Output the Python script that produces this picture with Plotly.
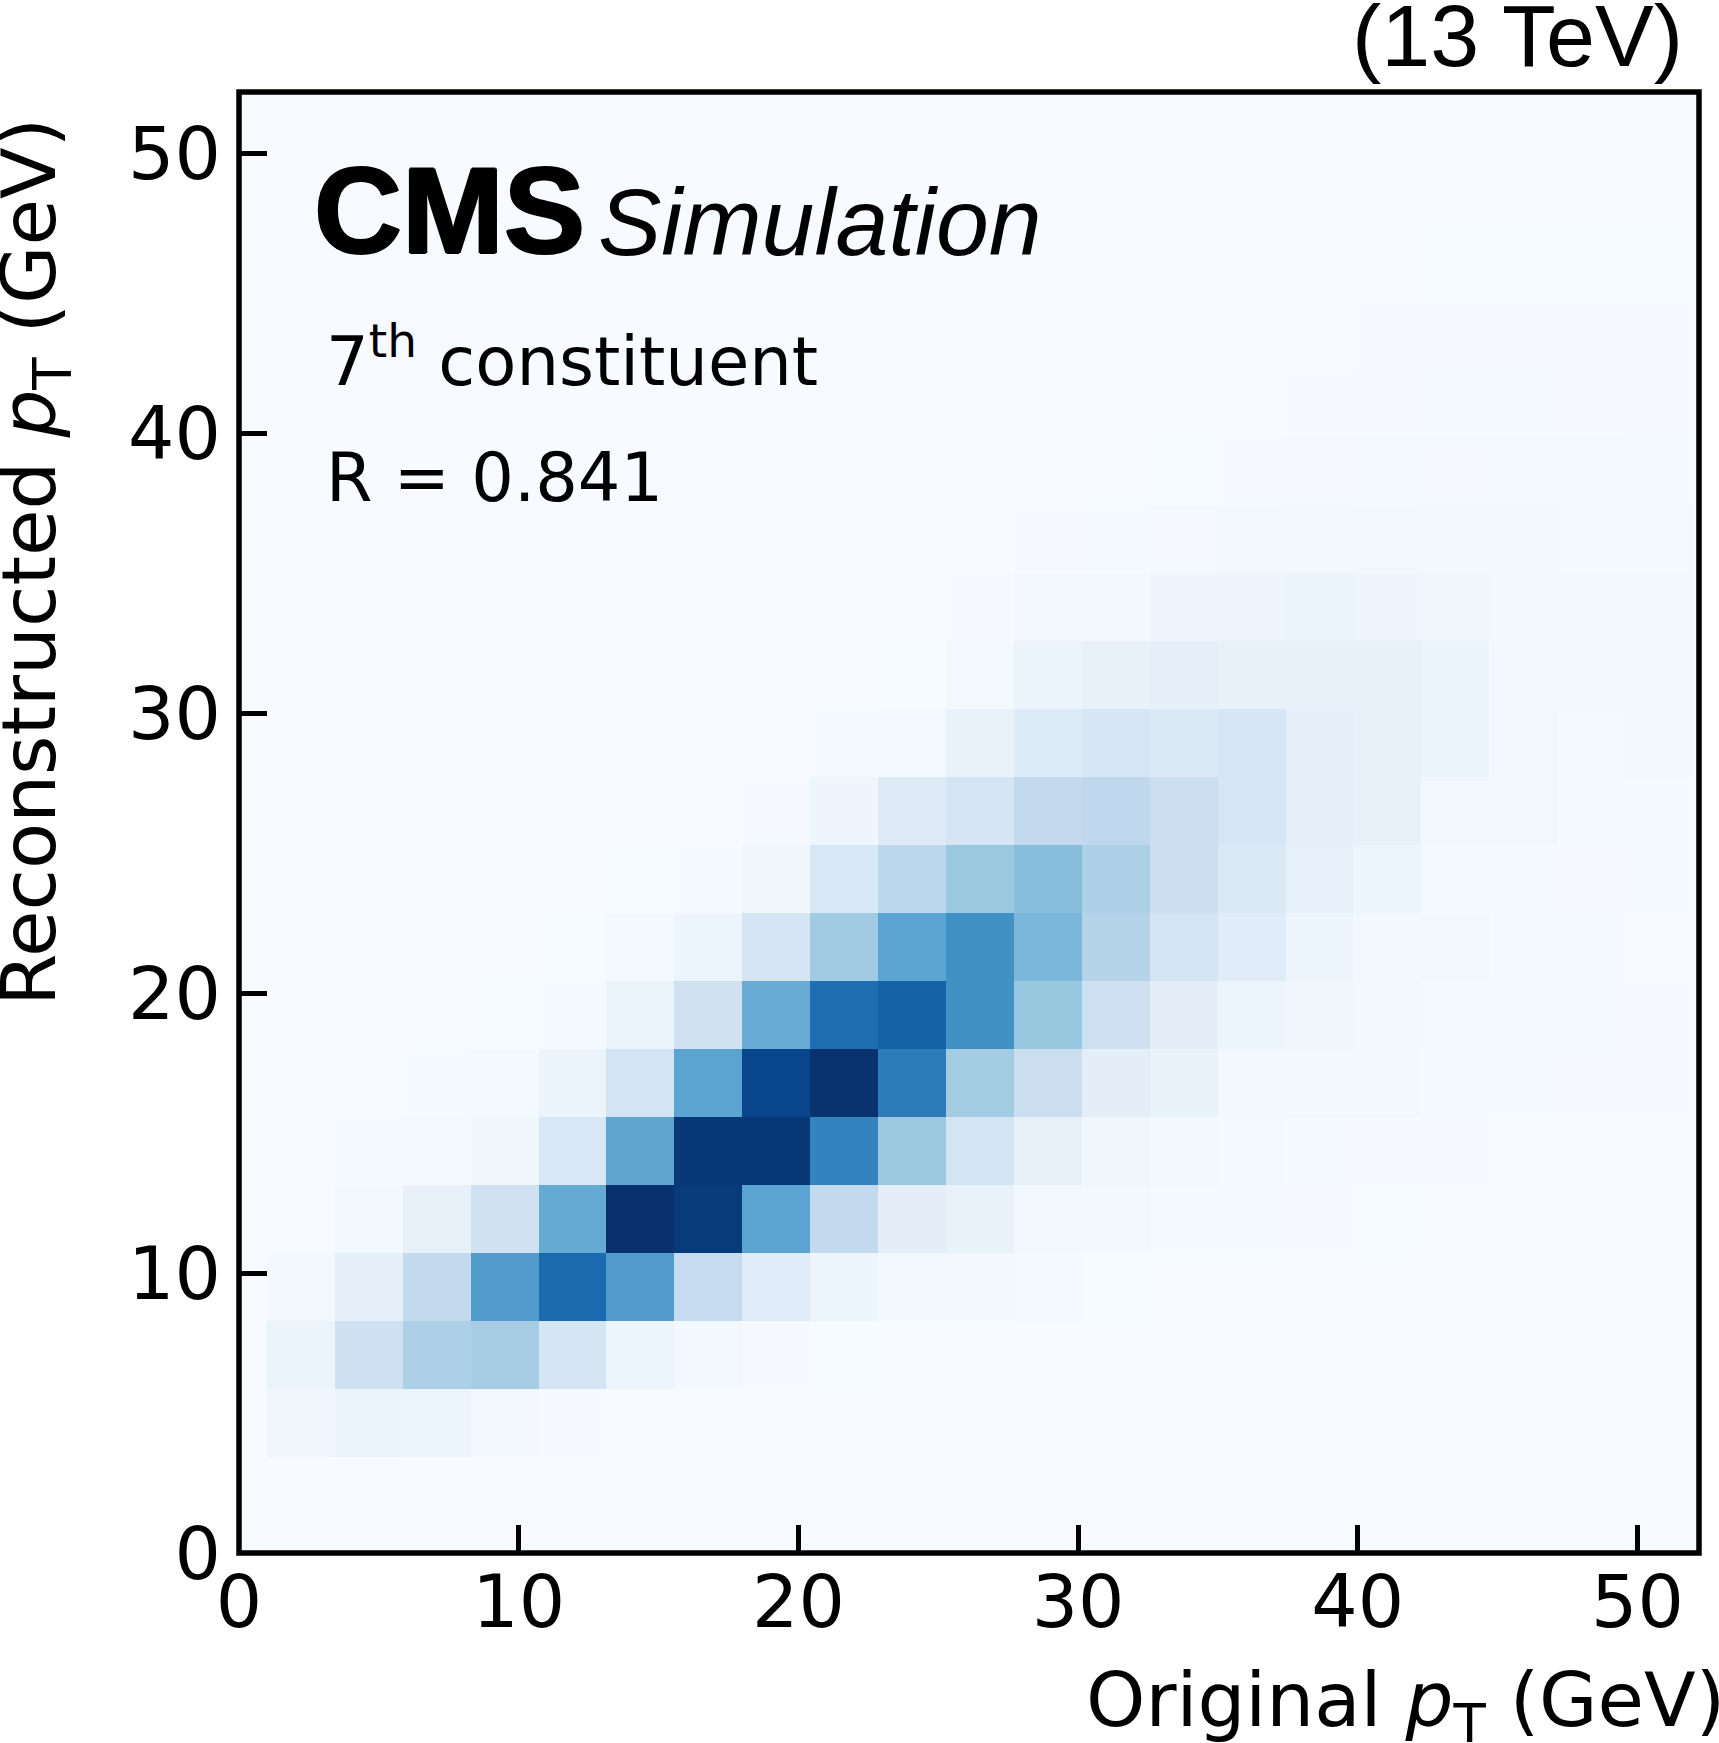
import numpy as np
import plotly.graph_objects as go

# Bin edges (GeV) and normalised bin contents, row 0 = lowest reconstructed pT bin
x_edges = np.linspace(1, 52, 22).tolist()
y_edges = np.linspace(1, 52, 22).tolist()
tick_values = [0, 10, 20, 30, 40, 50]
blues = ["#f7fbff", "#deebf7", "#c6dbef", "#9ecae1", "#6baed6", "#4292c6", "#2171b5", "#08519c", "#08306b"]

counts = [
    [0,    0,    0,    0,    0,    0,    0,    0,    0,    0,    0,    0,    0,    0,    0,    0,    0,    0,    0,    0,    0],
    [.04,  .06,  .05,  .02,  .005, .002, 0,    0,    0,    0,    0,    0,    0,    0,    0,    0,    0,    0,    0,    0,    0],
    [.06,  .21,  .33,  .35,  .17,  .05,  .025, .004, .003, .002, .001, 0,    0,    0,    0,    0,    0,    0,    0,    0,    0],
    [.025, .09,  .26,  .58,  .78,  .58,  .25,  .115, .05,  .02,  .02,  .015, .003, .002, .002, .001, 0,    0,    0,    0,    0],
    [0,    .025, .075, .20,  .52,  1.0,  .96,  .55,  .26,  .10,  .07,  .03,  .025, .01,  .008, .006, .003, .002, .001, 0,    0],
    [0,    .01,  .015, .04,  .16,  .54,  .97,  .97,  .68,  .38,  .18,  .08,  .04,  .02,  .015, .01,  .006, .004, .002, .001, .001],
    [0,    0,    .01,  .015, .055, .18,  .55,  .92,  .99,  .71,  .36,  .22,  .10,  .07,  .025, .025, .02,  .008, .01,  .006, .005],
    [0,    0,    0,    .003, .008, .055, .20,  .51,  .76,  .81,  .63,  .39,  .21,  .10,  .05,  .04,  .025, .016, .018, .008, .005],
    [0,    0,    0,    0,    .003, .015, .05,  .17,  .37,  .55,  .63,  .46,  .30,  .18,  .115, .05,  .025, .03,  .016, .01,  .002],
    [0,    0,    0,    0,    0,    .003, .01,  .04,  .16,  .28,  .385, .43,  .33,  .22,  .14,  .085, .05,  .016, .016, .006, .01],
    [0,    0,    0,    0,    0,    0,    .002, .006, .045, .125, .17,  .26,  .27,  .22,  .165, .095, .075, .03,  .03,  .01,  .01],
    [0,    0,    0,    0,    0,    0,    0,    .001, .01,  .015, .07,  .13,  .165, .14,  .165, .095, .075, .055, .03,  .015, .02],
    [0,    0,    0,    0,    0,    0,    0,    0,    .002, .003, .015, .06,  .075, .095, .075, .075, .075, .055, .03,  .02,  .02],
    [0,    0,    0,    0,    0,    0,    0,    0,    0,    .001, .006, .025, .02,  .045, .045, .055, .045, .04,  .025, .02,  .02],
    [0,    0,    0,    0,    0,    0,    0,    0,    0,    0,    .001, .006, .008, .012, .024, .024, .03,  .024, .024, .014, .014],
    [0,    0,    0,    0,    0,    0,    0,    0,    0,    0,    0,    .001, .002, .003, .006, .012, .014, .012, .014, .014, .01],
    [0,    0,    0,    0,    0,    0,    0,    0,    0,    0,    0,    0,    .001, .001, .002, .004, .004, .01,  .01,  .006, .006],
    [0,    0,    0,    0,    0,    0,    0,    0,    0,    0,    0,    0,    0,    .001, .001, .002, .005, .005, .005, .005, .005],
    [0,    0,    0,    0,    0,    0,    0,    0,    0,    0,    0,    0,    0,    0,    0,    .001, .002, .003, .003, .003, .003],
    [0,    0,    0,    0,    0,    0,    0,    0,    0,    0,    0,    0,    0,    0,    0,    0,    .001, .001, .001, .001, .001],
    [0,    0,    0,    0,    0,    0,    0,    0,    0,    0,    0,    0,    0,    0,    0,    0,    0,    0,    0,    0,    0],
]

colorscale = [[i / 8, c] for i, c in enumerate(blues)]
DJ = "DejaVu Sans"
LB = "Liberation Sans"

fig = go.Figure(go.Heatmap(
    x=x_edges, y=y_edges, z=counts,
    zmin=0, zmax=1, colorscale=colorscale, showscale=False,
    hoverinfo="skip",
))

axis = dict(
    range=[0, 52.2], tickmode="array", tickvals=tick_values, ticktext=[str(v) for v in tick_values],
    ticks="inside", ticklen=28, tickwidth=4.5, tickcolor="black",
    showline=False, showgrid=False, zeroline=False,
    tickfont=dict(family=DJ, size=73, color="black"),
)
fig.update_layout(
    width=1719, height=1743, autosize=False,
    margin=dict(l=239, r=20, t=92, b=190, pad=0),
    paper_bgcolor="white", plot_bgcolor="#f7fbff",
    xaxis=dict(axis, ticklabelstandoff=0),
    yaxis=dict(axis, ticklabelstandoff=17),
    showlegend=False,
)
# Frame centred on the plot-area edge
fig.add_shape(type="rect", xref="paper", yref="paper", x0=0, x1=1, y0=0, y1=1,
              line=dict(color="black", width=5.5), fillcolor="rgba(0,0,0,0)", layer="above")

def note(text, x, y, size, family=DJ, xanchor="left", yanchor="middle", angle=0, shadow=None):
    font = dict(family=family, size=size, color="black")
    if shadow:
        font["shadow"] = shadow
    fig.add_annotation(text=text, x=x, y=y, xref="paper", yref="paper", showarrow=False,
                       xanchor=xanchor, yanchor=yanchor, textangle=angle, align="left", font=font)

L, T, PW, PH = 239, 92, 1460, 1461
px = lambda v: (v - L) / PW
py = lambda v: 1 - (v - T) / PH

heavy = "1.3px 0 0 black, -1.3px 0 0 black, 0 1.3px 0 black, 0 -1.3px 0 black"
note("<b>CMS</b>", px(312), py(211), 122, family=LB, shadow=heavy)
note("<i>Simulation</i>", px(596), py(222), 95, family=LB)
note("7<sup>th</sup> constituent", px(324), py(357), 67.2)
note("R = 0.841", px(324), py(478), 67)
note("(13 TeV)", px(1685), py(35), 88, family=LB, xanchor="right")
note("Original <i>p</i><sub>T</sub> (GeV)", px(1727), py(1705), 75.5, xanchor="right")
note("Reconstructed <i>p</i><sub>T</sub> (GeV)", px(34), py(562), 75.5, xanchor="center", angle=-90)

fig.write_html("out.html", config={"displayModeBar": False},
               post_script="document.body.style.margin='0';document.documentElement.style.overflow='hidden';")
